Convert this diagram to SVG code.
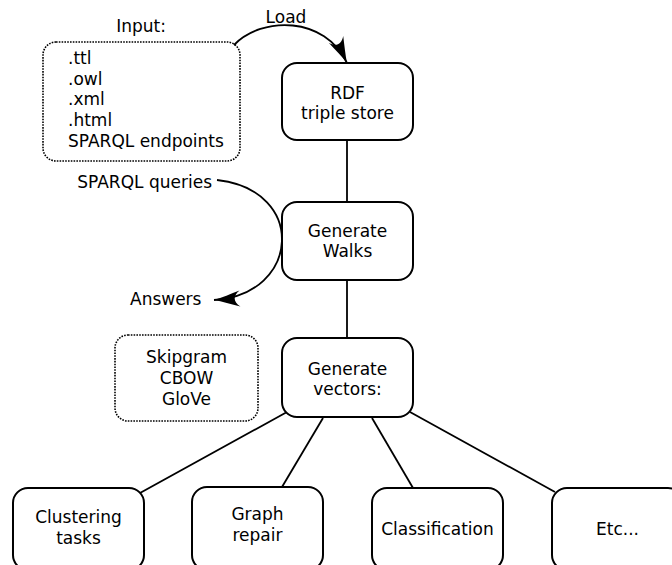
<svg xmlns="http://www.w3.org/2000/svg" width="672" height="565" viewBox="0 0 672 565">
  <style>
    .box { fill: #fff; stroke: #000; stroke-width: 2; }
    .dotted { fill: none; stroke: #000; stroke-width: 1.6; stroke-dasharray: 1.6 1.2; }
    .link { fill: none; stroke: #000; stroke-width: 1.8; }
    text { font-family: "DejaVu Sans", "Liberation Sans", sans-serif; font-size: 17px; fill: #000; }
    .c { text-anchor: middle; }
  </style>
  <defs>
    <!-- slender arrowhead with a swept-back tail -->
    <marker id="arrow" viewBox="-28 -10 30 20" markerWidth="30" markerHeight="20" refX="0" refY="0" orient="auto" markerUnits="userSpaceOnUse">
      <path d="M0,0 C-8,-2 -17,-5 -26,-8 C-19,-3 -19,3 -26,8 C-17,5 -8,2 0,0 Z" fill="#000"/>
    </marker>
  </defs>

  <!-- connectors -->
  <g id="connectors">
    <path class="link" d="M234,45 C262,16 325,16 347,63" marker-end="url(#arrow)"/>
    <path class="link" d="M217,180 C308,190 300,295 214,300" marker-end="url(#arrow)"/>
    <line class="link" x1="347" y1="140" x2="347" y2="202"/>
    <line class="link" x1="347" y1="280" x2="347" y2="338"/>
    <line class="link" x1="287" y1="412" x2="140" y2="493"/>
    <line class="link" x1="323" y1="418" x2="282" y2="487"/>
    <line class="link" x1="372" y1="418" x2="413" y2="488"/>
    <line class="link" x1="410" y1="412" x2="555" y2="492"/>
  </g>

  <!-- input sources -->
  <g id="input">
    <text x="141" y="32" class="c">Input:</text>
    <rect class="dotted" x="43" y="42" width="197" height="119" rx="13"/>
    <text x="68" y="64">.ttl</text>
    <text x="68" y="84.7">.owl</text>
    <text x="68" y="105.4">.xml</text>
    <text x="68" y="126">.html</text>
    <text x="68" y="146.8">SPARQL endpoints</text>
  </g>

  <g id="load-label">
    <text x="286" y="23" class="c">Load</text>
  </g>

  <g id="rdf-store">
    <rect class="box" x="282" y="63" width="131" height="77" rx="15"/>
    <text x="347.5" y="99" class="c">RDF</text>
    <text x="347.5" y="119" class="c">triple store</text>
  </g>

  <g id="queries">
    <text x="212" y="188" text-anchor="end">SPARQL queries</text>
    <text x="130" y="305">Answers</text>
  </g>

  <g id="walks">
    <rect class="box" x="282" y="202" width="131" height="78" rx="15"/>
    <text x="347.5" y="237" class="c">Generate</text>
    <text x="347.5" y="257" class="c">Walks</text>
  </g>

  <g id="models">
    <rect class="dotted" x="115" y="335" width="143" height="86" rx="13"/>
    <text x="186.5" y="363" class="c">Skipgram</text>
    <text x="186.5" y="384" class="c">CBOW</text>
    <text x="186.5" y="405" class="c">GloVe</text>
  </g>

  <g id="vectors">
    <rect class="box" x="282" y="338" width="131" height="79" rx="15"/>
    <text x="347.5" y="375" class="c">Generate</text>
    <text x="347.5" y="395" class="c">vectors:</text>
  </g>

  <g id="clustering">
    <rect class="box" x="13" y="488" width="131" height="82" rx="15"/>
    <text x="78.5" y="523" class="c">Clustering</text>
    <text x="78.5" y="544" class="c">tasks</text>
  </g>

  <g id="graph-repair">
    <rect class="box" x="192" y="487" width="131" height="83" rx="15"/>
    <text x="257.5" y="520" class="c">Graph</text>
    <text x="257.5" y="541" class="c">repair</text>
  </g>

  <g id="classification">
    <rect class="box" x="372" y="488" width="131" height="82" rx="15"/>
    <text x="437.5" y="535" class="c">Classification</text>
  </g>

  <g id="etc">
    <rect class="box" x="552" y="488" width="131" height="82" rx="15"/>
    <text x="617.5" y="535" class="c">Etc...</text>
  </g>
</svg>
